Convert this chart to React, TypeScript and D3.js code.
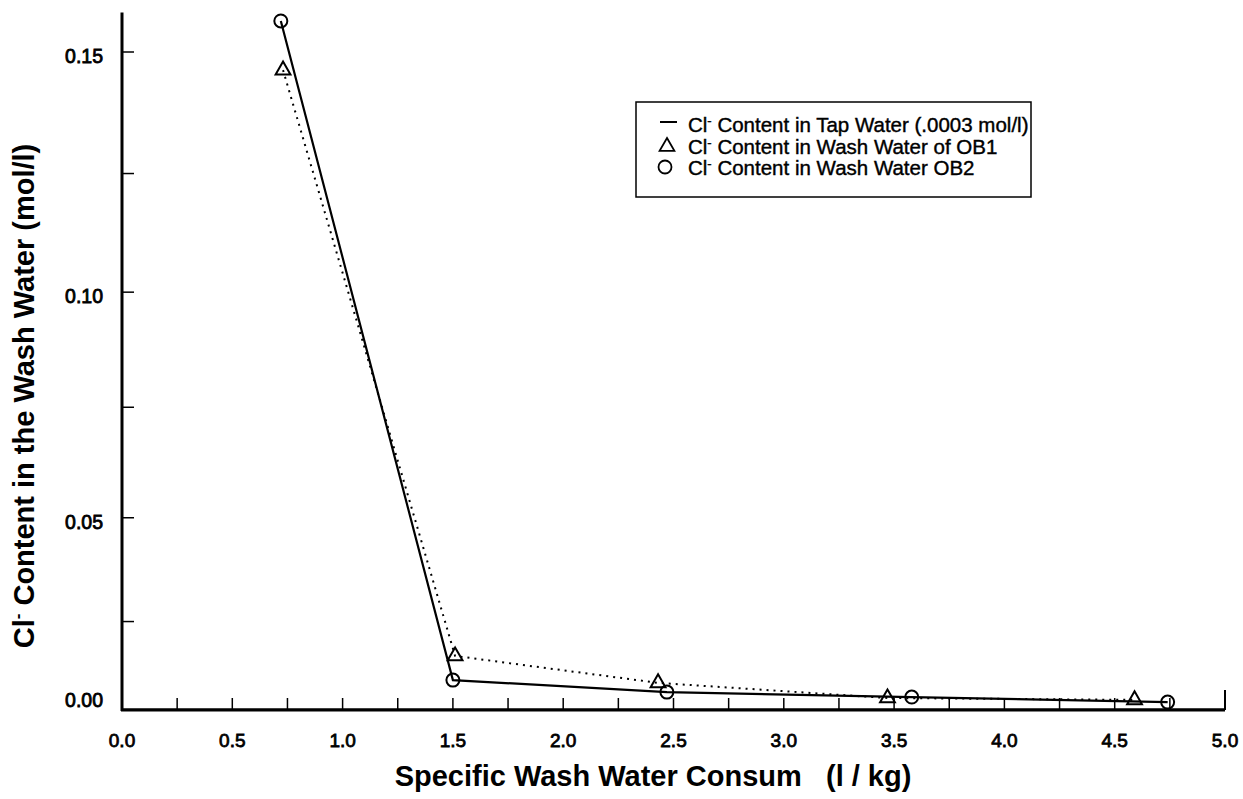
import React from 'react'
import * as d3 from 'd3'

// series (x = l/kg, y = mol/l)
const ob1X = [0.73, 1.51, 2.43, 3.47, 4.59]
const ob1Y = [0.1463, 0.0161, 0.0087, 0.0042, 0.0036]
const ob2X = [0.72, 1.5, 2.47, 3.58, 4.74]
const ob2Y = [0.1563, 0.0095, 0.006, 0.0045, 0.0029]
const tapX = [0, 5]
const tapY = [0.0003, 0.0003]

const xTickLabels = [0, 0.5, 1, 1.5, 2, 2.5, 3, 3.5, 4, 4.5, 5]
const xMinorTicks = [0.25, 0.75, 1.25, 1.75, 2.25, 2.75, 3.25, 3.75, 4.25, 4.75]
const yTickLabels = [0, 0.05, 0.1, 0.15]
const yMinorTicks = [0.025, 0.075, 0.125]
const yTop = 0.158

const legendLabels = [
  ' Content in Tap Water (.0003 mol/l)',
  ' Content in Wash Water of OB1',
  ' Content in Wash Water OB2',
]

const font = '"Liberation Sans", Arial, Helvetica, sans-serif'

export default function App() {
  const width = 1243
  const height = 799

  // the printed axes are a bit stretched, a power scale follows the ticks best
  const x = d3.scaleLinear().domain([0, 5]).range([122, 1225])
  const y = d3.scalePow().exponent(1.12).domain([0, 0.15]).range([710, 52])

  const line = d3.line<[number, number]>()
    .x((d) => x(d[0]))
    .y((d) => y(d[1]))

  const ob1 = ob1X.map((v, i) => [v, ob1Y[i]] as [number, number])
  const ob2 = ob2X.map((v, i) => [v, ob2Y[i]] as [number, number])
  const tap = tapX.map((v, i) => [v, tapY[i]] as [number, number])

  const tri = d3.symbol().type(d3.symbolTriangle).size(95)()

  const legendX = 636
  const legendY = 102

  return (
    <div style={{ position: 'absolute', left: 0, top: 0 }}>
      <svg width={width} height={height} style={{ display: 'block', background: '#fff' }}>
        {/* axes */}
        <line x1={x(0)} x2={x(0)} y1={y(yTop)} y2={y(0) + 1} stroke="#000" strokeWidth={3} />
        <line x1={x(0) - 1} x2={x(5)} y1={y(0)} y2={y(0)} stroke="#000" strokeWidth={3} />
        <line x1={x(5)} x2={x(5)} y1={y(0)} y2={y(0) - 20} stroke="#000" strokeWidth={2} />

        {xMinorTicks.concat(xTickLabels.slice(1, -1)).map((t) => (
          <line key={'xt' + t} x1={x(t)} x2={x(t)} y1={y(0)} y2={y(0) - 12} stroke="#000" strokeWidth={1.5} />
        ))}
        {xTickLabels.map((t) => (
          <text key={'xl' + t} x={x(t)} y={747} textAnchor="middle" fontFamily={font} fontSize={19}
            stroke="#000" strokeWidth={0.8}>
            {t.toFixed(1)}
          </text>
        ))}

        {yMinorTicks.concat(yTickLabels.slice(1)).map((t) => (
          <line key={'yt' + t} x1={x(0)} x2={x(0) + 12} y1={y(t)} y2={y(t)} stroke="#000" strokeWidth={1.5} />
        ))}
        {yTickLabels.map((t) => (
          <text key={'yl' + t} x={103} y={y(t) + (t === 0 ? -3 : 11)} textAnchor="end" fontFamily={font}
            fontSize={19.5} stroke="#000" strokeWidth={0.8}>
            {t.toFixed(2)}
          </text>
        ))}

        {/* titles */}
        <text x={653} y={786} textAnchor="middle" fontFamily={font} fontSize={29} fontWeight="bold">
          Specific Wash Water Consum{'\u00a0\u00a0\u00a0'}(l / kg)
        </text>
        <text transform="translate(34,396) rotate(-90)" textAnchor="middle" fontFamily={font} fontSize={29}
          fontWeight="bold">
          Cl<tspan dy={-11} fontSize={17}>-</tspan><tspan dy={11}> Content in the Wash Water (mol/l)</tspan>
        </text>

        {/* tap water level */}
        <path d={line(tap) || ''} fill="none" stroke="#000" strokeWidth={2} />

        {/* OB1 dotted with triangles */}
        <path d={line(ob1) || ''} fill="none" stroke="#000" strokeWidth={2} strokeDasharray="2,5" />
        {ob1.map((d, i) => (
          <path key={'t' + i} d={tri || ''} transform={`translate(${x(d[0])},${y(d[1])})`}
            fill="none" stroke="#000" strokeWidth={2} />
        ))}

        {/* OB2 solid with circles */}
        <path d={line(ob2) || ''} fill="none" stroke="#000" strokeWidth={2.2} />
        {ob2.map((d, i) => (
          <circle key={'c' + i} cx={x(d[0])} cy={y(d[1])} r={6.5} fill="none" stroke="#000" strokeWidth={2} />
        ))}

        {/* legend */}
        <rect x={legendX} y={legendY} width={395} height={95} fill="#fff" stroke="#000" strokeWidth={1.5} />
        {legendLabels.map((label, i) => {
          const baseY = legendY + 30 + i * 21.5
          return (
            <g key={'lg' + i}>
              {i === 0 && <line x1={660} x2={677} y1={baseY - 10} y2={baseY - 10} stroke="#000" strokeWidth={2} />}
              {i === 1 && <path d={tri || ''} transform={`translate(667,${baseY - 7})`} fill="none"
                stroke="#000" strokeWidth={1.8} />}
              {i === 2 && <circle cx={665} cy={baseY - 8} r={6.5} fill="none" stroke="#000" strokeWidth={1.8} />}
              <text x={688} y={baseY} fontFamily={font} fontSize={20.5} stroke="#000" strokeWidth={0.4}>
                Cl<tspan dy={-7} fontSize={13}>-</tspan><tspan dy={7}>{label}</tspan>
              </text>
            </g>
          )
        })}
      </svg>
    </div>
  )
}
